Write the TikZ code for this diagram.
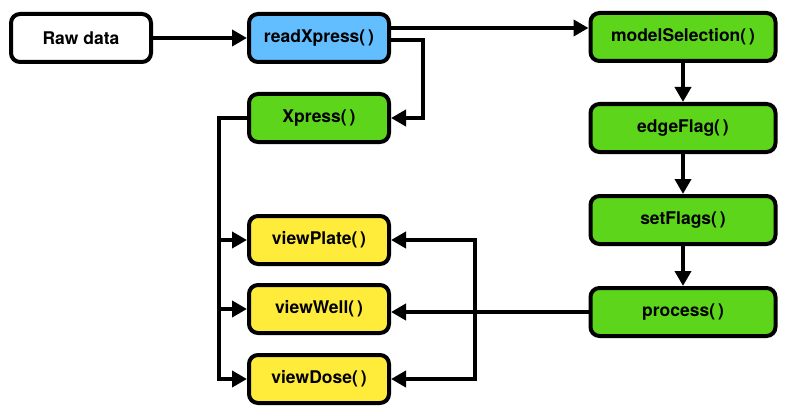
\documentclass[tikz,border=0pt]{standalone}
\usepackage{fontspec}
\setmainfont{TeX Gyre Heros}
\usetikzlibrary{arrows.meta,calc}
\definecolor{cblue}{HTML}{63BEFF}
\definecolor{cgreen}{HTML}{5CD51B}
\definecolor{cyellow}{HTML}{FFEB3A}
\tikzset{
  box/.style={draw=black, line width=4pt, rounded corners=9pt, minimum height=48pt,
    font=\fontsize{17.5}{19}\selectfont\bfseries, inner sep=0pt},
  narrow/.style={box, minimum width=140pt},
  wide/.style={box, minimum width=185pt},
  arr/.style={line width=4.6pt, -{Triangle[length=15pt,width=16pt]}},
  arrb/.style={line width=4.6pt, {Triangle[length=15pt,width=16pt]}-{Triangle[length=15pt,width=16pt]}},
  ln/.style={line width=4.6pt}
}
\begin{document}
\begin{tikzpicture}[x=1pt,y=-1pt]
\useasboundingbox (0,0) rectangle (793,420);
\node[narrow, fill=white] (raw) at (81,38) {Raw data};
\node[narrow, fill=cblue] (read) at (319,38) {readXpress(\,)};
\node[narrow, fill=cgreen] (xpress) at (319,118) {Xpress(\,)};
\node[narrow, fill=cyellow] (vplate) at (319,240) {viewPlate(\,)};
\node[narrow, fill=cyellow] (vwell) at (319,309) {viewWell(\,)};
\node[narrow, fill=cyellow] (vdose) at (319,379) {viewDose(\,)};
\node[wide, fill=cgreen] (model) at (683,37) {modelSelection(\,)};
\node[wide, fill=cgreen] (edge) at (683,128) {edgeFlag(\,)};
\node[wide, fill=cgreen] (setf) at (683,220) {setFlags(\,)};
\node[wide, fill=cgreen] (proc) at (683,312) {process(\,)};
\coordinate (busL) at (219,0);
\coordinate (busR) at (475,0);
\coordinate (rr) at (423,0);

\draw[arr] (raw.east) -- (read.west);
\draw[arr] ([yshift=10pt]read.east) coordinate (r1) -- (r1 -| model.west);
\draw[arr] ([yshift=-2pt]read.east) coordinate (r2) -- (r2 -| rr) |- (xpress.east);
\draw[arr] (model) -- (edge);
\draw[arr] (edge) -- (setf);
\draw[arr] (setf) -- (proc);
\draw[arr] (xpress.west) -- (xpress.west -| busL) |- (vdose.west);
\draw[arr] (vplate.west -| busL) -- (vplate.west);
\draw[arr] (vwell.west -| busL) -- (vwell.west);
\draw[arrb] (vplate.east) -- (vplate.east -| busR) -- (vdose.east -| busR) -- (vdose.east);
\draw[arr] (proc.west) -- (proc.west -| vwell.east);
\end{tikzpicture}
\end{document}
